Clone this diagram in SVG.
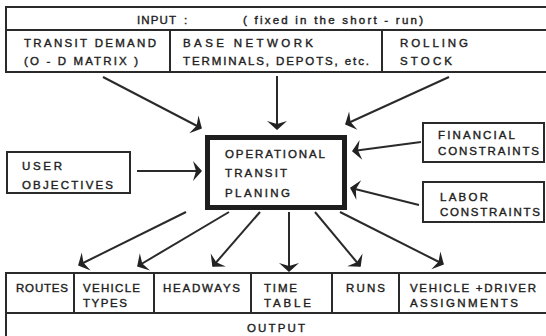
<svg xmlns="http://www.w3.org/2000/svg" width="546" height="336" viewBox="0 0 546 336">
<defs>
<marker id="ah" markerUnits="userSpaceOnUse" viewBox="-10 -12 12 24" markerWidth="12" markerHeight="24" refX="0" refY="0" orient="auto">
<path d="M1,0 L-8,-10 L-5,0 L-8,10 Z" fill="#222"/>
</marker>
</defs>
<style>
.b{fill:none;stroke:#2a2a2a;stroke-width:2}
.t{font-family:"Liberation Sans",Arial,sans-serif;font-size:11.5px;fill:#1e1e1e;stroke:#1e1e1e;stroke-width:0.4}
.c{fill:none;stroke:#2a2a2a;stroke-width:2;marker-end:url(#ah)}
</style>
<rect width="546" height="336" fill="#fff"/>
<g id="input">
<rect class="b" x="6" y="7" width="545" height="65"/>
<line class="b" x1="6" y1="30" x2="546" y2="30"/>
<line class="b" x1="170" y1="30" x2="170" y2="72"/>
<line class="b" x1="382" y1="30" x2="382" y2="72"/>
<text class="t" x="137" y="24" textLength="39" lengthAdjust="spacing">INPUT</text>
<text class="t" x="184" y="24">:</text>
<text class="t" x="243" y="24" textLength="180" lengthAdjust="spacing">( fixed in the short - run)</text>
<text class="t" x="24" y="47" textLength="132" lengthAdjust="spacing">TRANSIT DEMAND</text>
<text class="t" x="24" y="65" textLength="114" lengthAdjust="spacing">(O - D  MATRIX )</text>
<text class="t" x="183" y="47" textLength="130" lengthAdjust="spacing">BASE  NETWORK</text>
<text class="t" x="183" y="65" textLength="186" lengthAdjust="spacing">TERMINALS, DEPOTS, etc.</text>
<text class="t" x="400" y="47" textLength="68" lengthAdjust="spacing">ROLLING</text>
<text class="t" x="400" y="65" textLength="52" lengthAdjust="spacing">STOCK</text>
</g>
<g id="planning">
<rect x="207.5" y="137.5" width="137" height="70" fill="none" stroke="#1e1e1e" stroke-width="5"/>
<text class="t" x="225" y="158" textLength="100" lengthAdjust="spacing">OPERATIONAL</text>
<text class="t" x="225" y="177" textLength="62" lengthAdjust="spacing">TRANSIT</text>
<text class="t" x="225" y="197" textLength="65" lengthAdjust="spacing">PLANING</text>
</g>
<g id="user">
<rect class="b" x="7" y="152" width="123" height="41"/>
<text class="t" x="22" y="170" textLength="40" lengthAdjust="spacing">USER</text>
<text class="t" x="22" y="189" textLength="91" lengthAdjust="spacing">OBJECTIVES</text>
</g>
<g id="financial">
<rect class="b" x="423" y="123" width="121" height="39"/>
<text class="t" x="438" y="139" textLength="77" lengthAdjust="spacing">FINANCIAL</text>
<text class="t" x="438" y="155" textLength="101" lengthAdjust="spacing">CONSTRAINTS</text>
</g>
<g id="labor">
<rect class="b" x="423" y="182" width="121" height="40"/>
<text class="t" x="440" y="201" textLength="48" lengthAdjust="spacing">LABOR</text>
<text class="t" x="440" y="216" textLength="100" lengthAdjust="spacing">CONSTRAINTS</text>
</g>
<g id="output">
<rect class="b" x="6" y="273" width="545" height="70"/>
<line class="b" x1="6" y1="313" x2="546" y2="313"/>
<line class="b" x1="74" y1="273" x2="74" y2="313"/>
<line class="b" x1="154" y1="273" x2="154" y2="313"/>
<line class="b" x1="251" y1="273" x2="251" y2="313"/>
<line class="b" x1="332" y1="273" x2="332" y2="313"/>
<line class="b" x1="399" y1="273" x2="399" y2="313"/>
<text class="t" x="16" y="292" textLength="52" lengthAdjust="spacing">ROUTES</text>
<text class="t" x="83" y="292" textLength="57" lengthAdjust="spacing">VEHICLE</text>
<text class="t" x="83" y="307" textLength="44" lengthAdjust="spacing">TYPES</text>
<text class="t" x="163" y="292" textLength="77" lengthAdjust="spacing">HEADWAYS</text>
<text class="t" x="264" y="292" textLength="33" lengthAdjust="spacing">TIME</text>
<text class="t" x="264" y="307" textLength="47" lengthAdjust="spacing">TABLE</text>
<text class="t" x="346" y="292" textLength="39" lengthAdjust="spacing">RUNS</text>
<text class="t" x="410" y="292" textLength="126" lengthAdjust="spacing">VEHICLE +DRIVER</text>
<text class="t" x="410" y="307" textLength="108" lengthAdjust="spacing">ASSIGNMENTS</text>
<text class="t" x="247" y="332" textLength="58" lengthAdjust="spacing">OUTPUT</text>
</g>
<g id="connectors">
<line class="c" x1="103" y1="77" x2="201" y2="128"/>
<line class="c" x1="277" y1="76" x2="277" y2="129"/>
<line class="c" x1="449" y1="77" x2="346" y2="124"/>
<line class="c" x1="137" y1="171" x2="201" y2="171"/>
<line class="c" x1="421" y1="142" x2="353" y2="151"/>
<line class="c" x1="419" y1="205" x2="351" y2="188"/>
<line class="c" x1="186" y1="212" x2="79" y2="265"/>
<line class="c" x1="229" y1="212" x2="138" y2="266"/>
<line class="c" x1="260" y1="212" x2="213" y2="266"/>
<line class="c" x1="289" y1="212" x2="289" y2="271"/>
<line class="c" x1="315" y1="212" x2="360" y2="266"/>
<line class="c" x1="340" y1="212" x2="443" y2="264"/>
</g>
</svg>
